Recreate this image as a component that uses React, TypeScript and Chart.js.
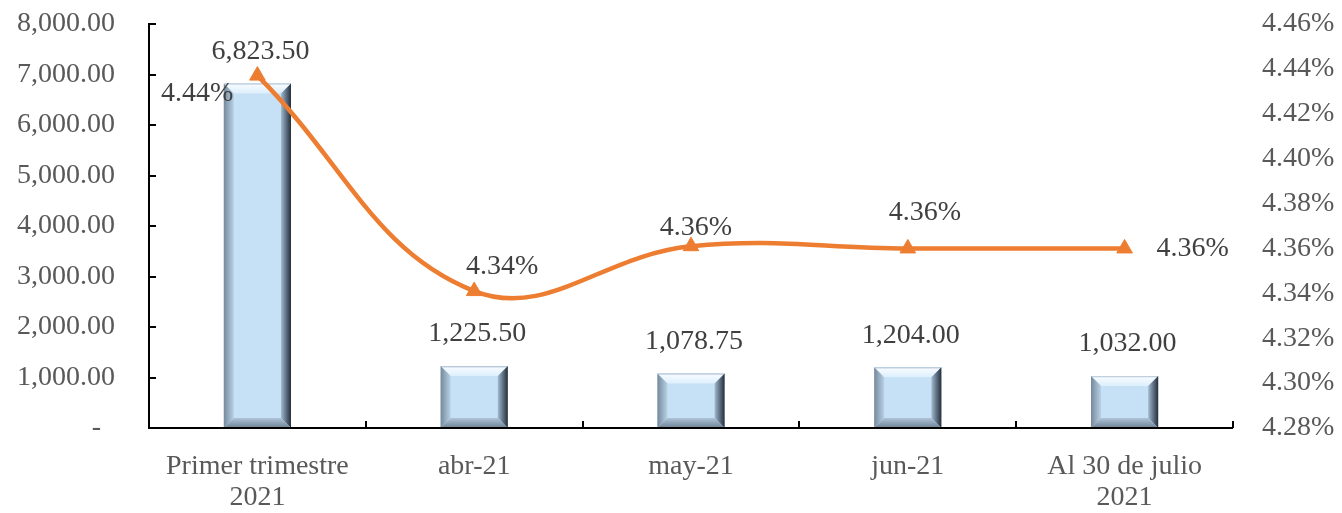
import React, { useEffect, useRef } from "react";
import { Chart, registerables } from "chart.js";

Chart.register(...registerables);

const categories: (string | string[])[] = [
  ["Primer trimestre", "2021"],
  "abr-21",
  "may-21",
  ["jun-21"],
  ["Al 30 de julio", "2021"],
];
const amounts = [6823.5, 1225.5, 1078.75, 1204.0, 1032.0];
const rates = [4.437, 4.341, 4.361, 4.36, 4.36];
const rateLabels = ["4.44%", "4.34%", "4.36%", "4.36%", "4.36%"];
const leftTicks = [0, 1000, 2000, 3000, 4000, 5000, 6000, 7000, 8000];
const rightTicks = [4.28, 4.3, 4.32, 4.34, 4.36, 4.38, 4.4, 4.42, 4.44, 4.46];

// label placement (style)
const rateLabelOffsets: [number, number, CanvasTextAlign][] = [
  [-24, 18, "right"],
  [28, -24, "center"],
  [5, -19, "center"],
  [17, -36, "center"],
  [32, 0, "left"],
];

const FONT = "'Liberation Serif', 'Times New Roman', serif";
const FS = 28;
const TICK_COLOR = "#595959";
const LABEL_COLOR = "#404040";
const ORANGE = "#ED7D31";

const fmt = (v: number) =>
  v.toLocaleString("en-US", { minimumFractionDigits: 2, maximumFractionDigits: 2 });

const bevelPlugin = {
  id: "bevel",
  afterDatasetDraw(chart: any, args: any) {
    if (args.index !== 1) return;
    const ctx = chart.ctx as CanvasRenderingContext2D;
    const meta = chart.getDatasetMeta(1);
    meta.data.forEach((el: any) => {
      const p = el.getProps(["x", "y", "base", "width"], true);
      const L = p.x - p.width / 2;
      const R = p.x + p.width / 2;
      const T = p.y;
      const B = p.base;
      const b = Math.min(10, (B - T) / 3);
      ctx.save();
      // top
      let g = ctx.createLinearGradient(0, T, 0, T + b);
      g.addColorStop(0, "#A9BDCF");
      g.addColorStop(0.2, "#F4FAFF");
      g.addColorStop(1, "#DDEFFC");
      ctx.fillStyle = g;
      ctx.beginPath();
      ctx.moveTo(L, T); ctx.lineTo(R, T); ctx.lineTo(R - b, T + b); ctx.lineTo(L + b, T + b); ctx.closePath();
      ctx.fill();
      // left
      g = ctx.createLinearGradient(L, 0, L + b, 0);
      g.addColorStop(0, "#75899B");
      g.addColorStop(1, "#B9D1E6");
      ctx.fillStyle = g;
      ctx.beginPath();
      ctx.moveTo(L, T); ctx.lineTo(L + b, T + b); ctx.lineTo(L + b, B - b); ctx.lineTo(L, B); ctx.closePath();
      ctx.fill();
      // right
      g = ctx.createLinearGradient(R - b, 0, R, 0);
      g.addColorStop(0, "#A3BACF");
      g.addColorStop(0.55, "#5A6C7E");
      g.addColorStop(1, "#252E38");
      ctx.fillStyle = g;
      ctx.beginPath();
      ctx.moveTo(R, T); ctx.lineTo(R, B); ctx.lineTo(R - b, B - b); ctx.lineTo(R - b, T + b); ctx.closePath();
      ctx.fill();
      // bottom
      g = ctx.createLinearGradient(0, B - b, 0, B);
      g.addColorStop(0, "#AFC4D7");
      g.addColorStop(1, "#6E8294");
      ctx.fillStyle = g;
      ctx.beginPath();
      ctx.moveTo(L, B); ctx.lineTo(R, B); ctx.lineTo(R - b, B - b); ctx.lineTo(L + b, B - b); ctx.closePath();
      ctx.fill();
      ctx.restore();
    });
  },
};

const axisPlugin = {
  id: "axisMarks",
  afterDraw(chart: any) {
    const ctx = chart.ctx as CanvasRenderingContext2D;
    const { left, right, bottom, top } = chart.chartArea;
    const y = chart.scales.y;
    ctx.save();
    ctx.strokeStyle = "#000";
    ctx.lineWidth = 2;
    ctx.beginPath();
    ctx.moveTo(left, top - 1);
    ctx.lineTo(left, bottom);
    ctx.lineTo(right, bottom);
    leftTicks.forEach((v) => {
      const py = Math.round(y.getPixelForValue(v));
      ctx.moveTo(left, py);
      ctx.lineTo(left + 7, py);
    });
    const n = categories.length;
    for (let i = 0; i <= n; i++) {
      const px = Math.round(left + ((right - left) * i) / n);
      ctx.moveTo(px, bottom);
      ctx.lineTo(px, bottom - 7);
    }
    ctx.stroke();
    ctx.restore();
  },
  afterDatasetsDraw(chart: any) {
    const ctx = chart.ctx as CanvasRenderingContext2D;
    ctx.save();
    ctx.font = `${FS}px ${FONT}`;
    ctx.fillStyle = LABEL_COLOR;
    ctx.textBaseline = "middle";
    const barMeta = chart.getDatasetMeta(1);
    barMeta.data.forEach((el: any, i: number) => {
      const p = el.getProps(["x", "y"], true);
      ctx.textAlign = "center";
      ctx.fillText(fmt(amounts[i]), p.x + 3, p.y - 32);
    });
    const lineMeta = chart.getDatasetMeta(0);
    lineMeta.data.forEach((el: any, i: number) => {
      const p = el.getProps(["x", "y"], true);
      const [dx, dy, al] = rateLabelOffsets[i];
      ctx.textAlign = al;
      ctx.fillText(rateLabels[i], p.x + dx, p.y + dy);
    });
    ctx.restore();
  },
};

export default function App() {
  const ref = useRef<HTMLCanvasElement>(null);
  useEffect(() => {
    const zeroPad = (s: any) => {
      s.paddingTop = 0;
      s.paddingBottom = 0;
    };
    const chart = new Chart(ref.current!, {
      type: "bar",
      data: {
        labels: categories,
        datasets: [
          {
            type: "line",
            label: "Tasa",
            data: rates,
            yAxisID: "y1",
            borderColor: ORANGE,
            backgroundColor: ORANGE,
            borderWidth: 4.5,
            tension: 0.4,
            pointStyle: "triangle",
            pointRadius: 9,
            pointBorderWidth: 1,
            pointBackgroundColor: ORANGE,
            pointBorderColor: ORANGE,
            order: 0,
          } as any,
          {
            type: "bar",
            label: "Monto",
            data: amounts,
            yAxisID: "y",
            backgroundColor: "#C6E0F6",
            borderWidth: 0,
            categoryPercentage: 1,
            barPercentage: 0.31,
            order: 1,
          },
        ],
      },
      options: {
        animation: false,
        responsive: false,
        maintainAspectRatio: false,
        layout: { autoPadding: false, padding: { top: 24, left: 0, right: 0, bottom: 0 } },
        plugins: { legend: { display: false }, tooltip: { enabled: false } },
        scales: {
          x: {
            grid: { display: false },
            border: { display: false },
            ticks: {
              color: TICK_COLOR,
              font: { family: FONT, size: FS, lineHeight: 1.12 },
              padding: 15,
              maxRotation: 0,
              autoSkip: false,
            },
            afterFit: (s: any) => {
              s.height = 85;
              s.paddingLeft = 0;
              s.paddingRight = 0;
            },
          },
          y: {
            position: "left",
            min: 0,
            max: 8000,
            grid: { display: false },
            border: { display: false },
            ticks: {
              stepSize: 1000,
              color: TICK_COLOR,
              font: { family: FONT, size: FS },
              padding: 26,
              callback: (v: any) => (Number(v) === 0 ? "-  " : fmt(Number(v))),
            },
            afterFit: (s: any) => {
              s.width = 149;
              zeroPad(s);
            },
          },
          y1: {
            position: "right",
            min: 4.28,
            max: 4.46,
            grid: { display: false },
            border: { display: false },
            afterBuildTicks: (s: any) => {
              s.ticks = rightTicks.map((v) => ({ value: v }));
            },
            ticks: {
              color: TICK_COLOR,
              font: { family: FONT, size: FS },
              padding: 21,
              callback: (v: any) => `${Number(v).toFixed(2)}%`,
            },
            afterFit: (s: any) => {
              s.width = 109;
              zeroPad(s);
            },
          },
        },
      },
      plugins: [bevelPlugin, axisPlugin],
    });
    return () => chart.destroy();
  }, []);
  return (
    <div style={{ position: "fixed", left: 0, top: 0, width: 1342, height: 513, background: "#fff" }}>
      <canvas ref={ref} width={1342} height={513} style={{ width: 1342, height: 513 }} />
    </div>
  );
}
